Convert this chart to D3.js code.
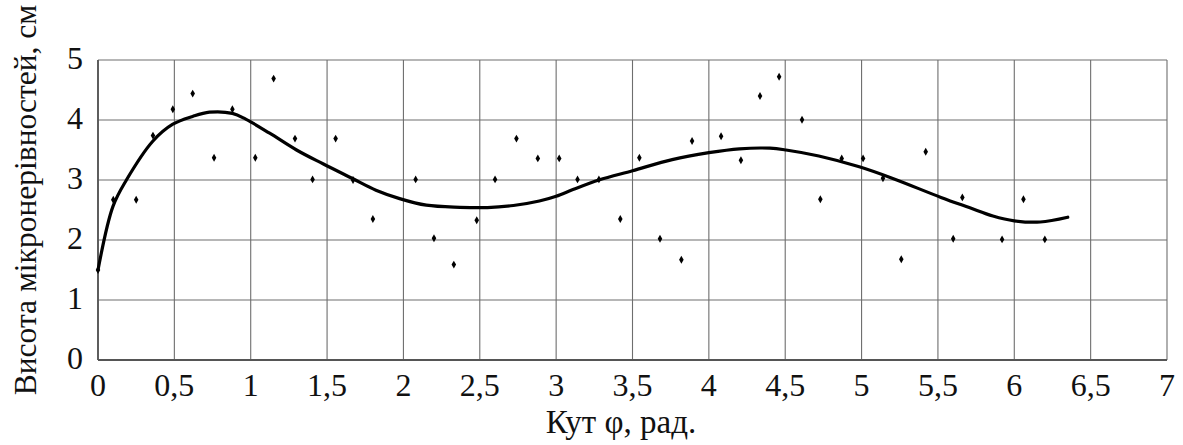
<!DOCTYPE html>
<html>
<head>
<meta charset="utf-8">
<script src="https://cdn.jsdelivr.net/npm/d3@7"></script>
<style>
html,body{margin:0;padding:0;background:#fff;}
svg{display:block;}
svg text{font-family:'Liberation Serif','Times New Roman',Tinos,serif !important;}
</style>
</head>
<body>
<svg id="chart" width="1183" height="445" font-family="Liberation Serif"></svg>
<script>
// Experimental points: angle (rad) and height (cm)
const pointX = [0, 0.10, 0.25, 0.36, 0.49, 0.62, 0.76, 0.88, 1.03, 1.15, 1.29, 1.405, 1.556, 1.67, 1.80, 2.08, 2.20, 2.33,
  2.48, 2.60, 2.74, 2.88, 3.02, 3.14, 3.28, 3.42, 3.545, 3.68, 3.82, 3.89, 4.08, 4.21, 4.335, 4.46, 4.61, 4.73,
  4.87, 5.01, 5.14, 5.26, 5.42, 5.60, 5.66, 5.92, 6.06, 6.20];
const pointY = [1.5, 2.67, 2.67, 3.74, 4.18, 4.44, 3.37, 4.18, 3.37, 4.69, 3.69, 3.01, 3.69, 3.0, 2.35, 3.01, 2.03, 1.59,
  2.33, 3.01, 3.69, 3.36, 3.36, 3.01, 3.01, 2.35, 3.37, 2.02, 1.67, 3.65, 3.73, 3.33, 4.40, 4.72, 4.005, 2.68,
  3.36, 3.36, 3.03, 1.68, 3.47, 2.02, 2.71, 2.01, 2.68, 2.01];

// Trend curve
const curveX = [0, 0.098, 0.186, 0.36, 0.49, 0.62, 0.73, 0.88, 0.97, 1.124, 1.30, 1.473, 1.67, 1.82, 1.975, 2.15, 2.37, 2.55, 2.72, 2.89, 3.0, 3.11, 3.28, 3.50, 3.76, 4.0, 4.2, 4.4, 4.505, 4.72, 4.985, 5.2, 5.52, 5.705, 5.86, 6.0, 6.17, 6.35];
const curveY = [1.5, 2.56, 3.0, 3.65, 3.93, 4.06, 4.13, 4.11, 4.01, 3.78, 3.5, 3.27, 3.02, 2.83, 2.69, 2.58, 2.545, 2.54, 2.575, 2.65, 2.73, 2.84, 3.0, 3.155, 3.34, 3.455, 3.52, 3.53, 3.5, 3.40, 3.22, 3.03, 2.71, 2.54, 2.40, 2.32, 2.30, 2.38];

const xTicks = [0, 0.5, 1, 1.5, 2, 2.5, 3, 3.5, 4, 4.5, 5, 5.5, 6, 6.5, 7];
const yTicks = [0, 1, 2, 3, 4, 5];
const xTitle = "Кут φ, рад.";
const yTitle = "Висота мікронерівностей, см";

(function () {
const FONT = "Liberation Serif";
const svg = d3.select("#chart");
const pL = 98, pR = 1167, pT = 60, pB = 360;
const x = d3.scaleLinear().domain([0, 7]).range([pL, pR]);
const y = d3.scaleLinear().domain([0, 5]).range([pB, pT]);
const fmt = d => String(d).replace(".", ",");

// gridlines
const g = svg.append("g");
g.selectAll("line.vx").data(xTicks).join("line")
  .attr("x1", d => x(d)).attr("x2", d => x(d)).attr("y1", pT).attr("y2", pB)
  .attr("stroke", "#6e6e6e").attr("stroke-width", 1.1);
g.selectAll("line.hy").data(yTicks).join("line")
  .attr("x1", pL).attr("x2", pR).attr("y1", d => y(d)).attr("y2", d => y(d))
  .attr("stroke", "#6e6e6e").attr("stroke-width", 1.1);

// axes lines
svg.append("line").attr("x1", pL).attr("x2", pL).attr("y1", pT).attr("y2", pB)
  .attr("stroke", "#555").attr("stroke-width", 1.8);
svg.append("line").attr("x1", pL).attr("x2", pR).attr("y1", pB).attr("y2", pB)
  .attr("stroke", "#555").attr("stroke-width", 1.8);

// tick labels
svg.selectAll("text.xt").data(xTicks).join("text").attr("class", "xt")
  .attr("x", d => x(d)).attr("y", 396).attr("text-anchor", "middle")
  .attr("font-family", FONT).style("font-family", FONT).attr("font-size", 32).attr("fill", "#111").text(fmt);
svg.selectAll("text.yt").data(yTicks).join("text").attr("class", "yt")
  .attr("x", 83).attr("y", d => y(d) + 9).attr("text-anchor", "end")
  .attr("font-family", FONT).style("font-family", FONT).attr("font-size", 32).attr("fill", "#111").text(fmt);

// titles
svg.append("text").attr("x", 621).attr("y", 433).attr("text-anchor", "middle")
  .attr("font-family", FONT).style("font-family", FONT).attr("font-size", 33).attr("fill", "#111").text(xTitle);
svg.append("text").attr("transform", "translate(36,200) rotate(-90)").attr("text-anchor", "middle")
  .attr("font-family", FONT).style("font-family", FONT).attr("font-size", 31.5).attr("fill", "#111").text(yTitle);

// curve
const line = d3.line().x(d => x(d[0])).y(d => y(d[1])).curve(d3.curveCatmullRom.alpha(0.5));
svg.append("path").datum(d3.zip(curveX, curveY)).attr("d", line)
  .attr("fill", "none").attr("stroke", "#000").attr("stroke-width", 3.2)
  .attr("stroke-linejoin", "round").attr("stroke-linecap", "round");

// points (small diamonds)
const diamond = d3.symbol().type(d3.symbolDiamond).size(18);
svg.selectAll("path.pt").data(d3.zip(pointX, pointY)).join("path")
  .attr("transform", d => `translate(${x(d[0])},${y(d[1])})`)
  .attr("d", diamond).attr("fill", "#000");
})();
</script>
</body>
</html>
